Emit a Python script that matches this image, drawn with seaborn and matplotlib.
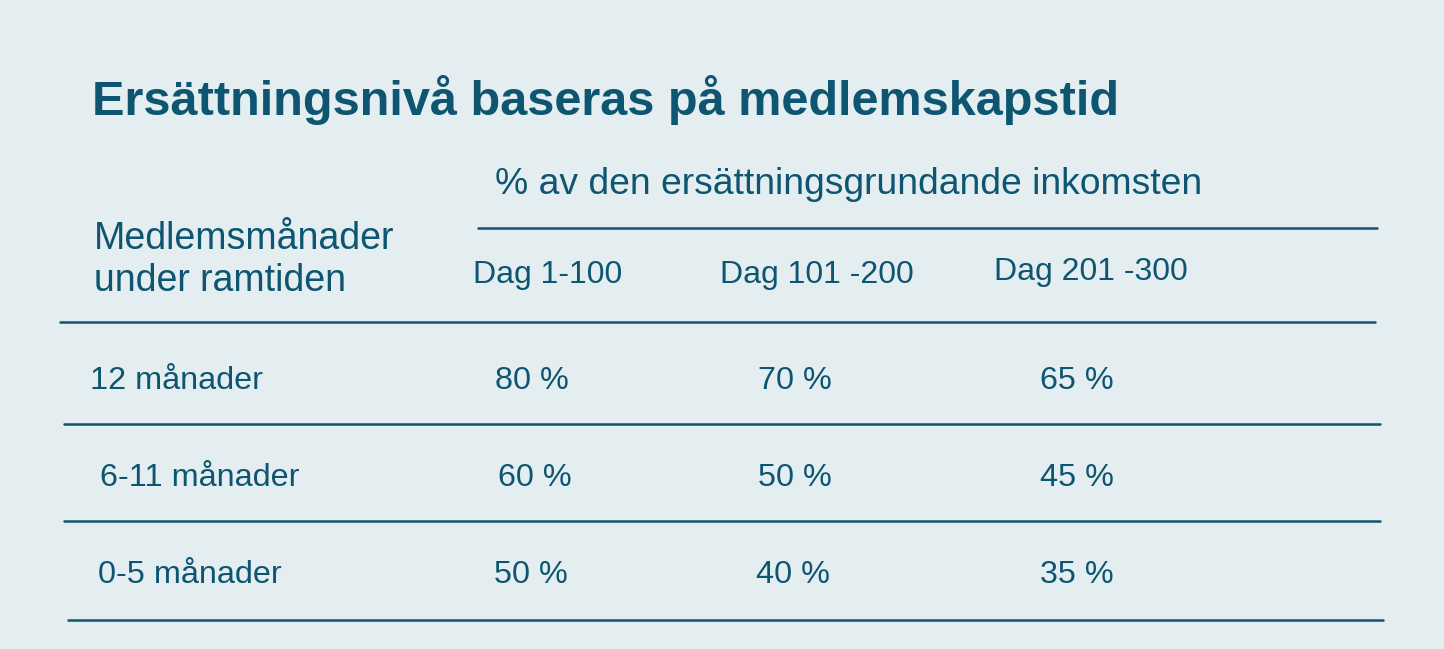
import matplotlib
matplotlib.use("Agg")
import matplotlib.pyplot as plt
import seaborn as sns

title = "Ersättningsnivå baseras på medlemskapstid"
subheader = "% av den ersättningsgrundande inkomsten"
row_header = ["Medlemsmånader", "under ramtiden"]
columns = ["Dag 1-100", "Dag 101 -200", "Dag 201 -300"]
rows = ["12 månader", "6-11 månader", "0-5 månader"]
values = [[80, 70, 65], [60, 50, 45], [50, 40, 35]]

BG = "#e4eef1"
FG = "#0d5570"
sns.set_theme(style="white", rc={"font.family": "Liberation Sans"})

fig = plt.figure(figsize=(14.44, 6.49), dpi=100, facecolor=BG)
ax = fig.add_axes([0, 0, 1, 1])
ax.set_facecolor(BG)
ax.set_xlim(0, 1444); ax.set_ylim(649, 0); ax.axis("off")

ax.text(92, 100, title, fontsize=35, fontweight="bold", color=FG, va="center")
ax.text(495, 185, subheader, fontsize=26.8, color=FG, va="center")
ax.plot([478, 1377], [228, 228], color=FG, lw=1.8)
ax.text(94, 239, row_header[0], fontsize=27, color=FG, va="center")
ax.text(94, 281, row_header[1], fontsize=27, color=FG, va="center")
col_x = [473, 720, 994]
col_y = [275, 275, 272]
for c, x, y in zip(columns, col_x, col_y):
    ax.text(x, y, c, fontsize=23, color=FG, va="center")
ax.plot([60, 1375], [322, 322], color=FG, lw=1.8)

row_y = [381, 478, 575]
label_x = [90, 100, 98]
val_x = [[495, 758, 1040], [498, 758, 1040], [494, 756, 1040]]
line_y = [424, 521, 620]
line_x = [(64, 1380), (64, 1380), (68, 1383)]
for i, r in enumerate(rows):
    ax.text(label_x[i], row_y[i], r, fontsize=23.3, color=FG, va="center")
    for j, v in enumerate(values[i]):
        ax.text(val_x[i][j], row_y[i], f"{v} %", fontsize=23.3, color=FG, va="center")
    ax.plot(line_x[i], [line_y[i]] * 2, color=FG, lw=1.8)

fig.savefig("out.png", dpi=100, facecolor=BG)
